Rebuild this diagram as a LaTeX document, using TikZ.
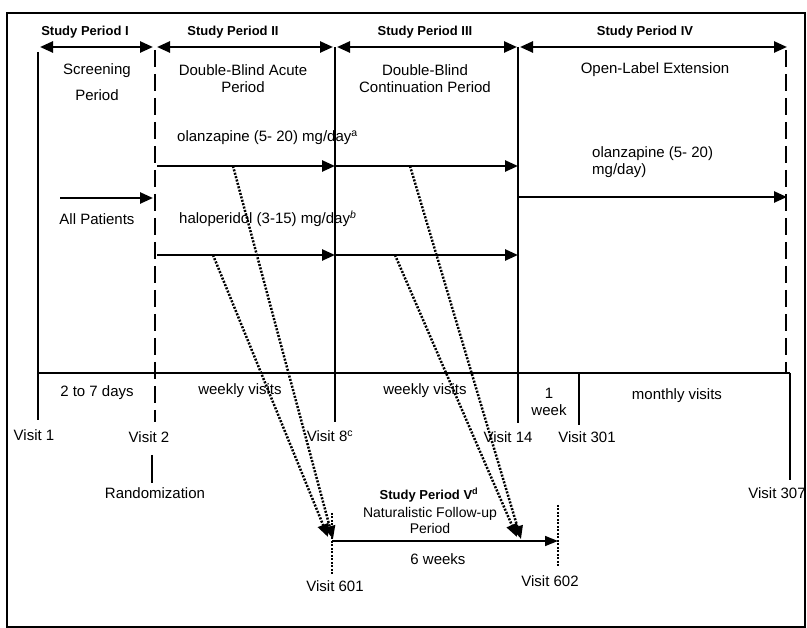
\documentclass[tikz,border=0pt]{standalone}
\usepackage{fontspec}
\setmainfont{Liberation Sans}
\usetikzlibrary{arrows.meta}
\begin{document}
\begin{tikzpicture}[x=1pt,y=-1pt,
  lbl/.style={font=\fontsize{15}{17}\selectfont, inner sep=0pt, align=center},
  lblv/.style={font=\fontsize{14}{16}\selectfont, inner sep=0pt, align=center},
  hdr/.style={font=\bfseries\fontsize{13}{15}\selectfont, inner sep=0pt},
  hdrv/.style={font=\bfseries\fontsize{13}{15}\selectfont, inner sep=0pt, align=center},
  solidline/.style={line width=2.5pt},
  dashline/.style={line width=2.5pt, dash pattern=on 17pt off 7pt},
  timeline/.style={line width=2.5pt},
  dblarrow/.style={line width=2.5pt, {Triangle[length=13pt,width=11pt]}-{Triangle[length=13pt,width=11pt]}},
  onearrow/.style={line width=2.5pt, -{Triangle[length=13pt,width=11pt]}},
  thinarrow/.style={line width=1.5pt, -{Triangle[length=13pt,width=10pt]}},
  dotline/.style={line width=2.5pt, dash pattern=on 2pt off 1.5pt},
  dotarrow/.style={line width=2.5pt, dash pattern=on 2pt off 1.5pt, -{Triangle[length=13pt,width=11pt]}}
]
\useasboundingbox (0,0) rectangle (807,628);
% outer frame
\draw[line width=1.5pt] (7,13) rectangle (805,627);

% coordinates
\coordinate (p1l) at (40,47);  \coordinate (p1r) at (153,47);
\coordinate (p2l) at (157,47); \coordinate (p2r) at (333,47);
\coordinate (p3l) at (337,47); \coordinate (p3r) at (517,47);
\coordinate (p4l) at (520,47); \coordinate (p4r) at (787,47);

\coordinate (v1t) at (38,52);   \coordinate (v1b) at (38,420);
\coordinate (v2t) at (155,50);  \coordinate (v2b) at (155,422);
\coordinate (v8t) at (335,47);  \coordinate (v8b) at (335,422);
\coordinate (v14t) at (518,47); \coordinate (v14b) at (518,423);
\coordinate (v301t) at (579,373); \coordinate (v301b) at (579,425);
\coordinate (v4t) at (786,50);  \coordinate (v4b) at (786,373);
\coordinate (v307t) at (790,373); \coordinate (v307b) at (790,480);
\coordinate (tl) at (38,373);   \coordinate (tr) at (790,373);
\coordinate (rt) at (152,455);  \coordinate (rb) at (152,483);

\coordinate (oa) at (157,166); \coordinate (ob) at (335,166); \coordinate (oc) at (518,166);
\coordinate (ha) at (157,255); \coordinate (hb) at (335,255); \coordinate (hc) at (518,255);
\coordinate (apa) at (60,198); \coordinate (apb) at (153,198);
\coordinate (o4a) at (518,197); \coordinate (o4b) at (787,197);

\coordinate (v601) at (332,541); \coordinate (v602) at (558,541);
\coordinate (v601t) at (332,513); \coordinate (v601b) at (332,575);
\coordinate (v602t) at (558,505); \coordinate (v602b) at (558,568);

\coordinate (dA) at (213,255); \coordinate (eA) at (328,537);
\coordinate (dB) at (233,166); \coordinate (eB) at (333,539);
\coordinate (dD) at (395,255); \coordinate (eD) at (517,537);
\coordinate (dC) at (410,166); \coordinate (eC) at (521,539);

% header arrows
\draw[dblarrow] (p1l) -- (p1r);
\draw[dblarrow] (p2l) -- (p2r);
\draw[dblarrow] (p3l) -- (p3r);
\draw[dblarrow] (p4l) -- (p4r);

% vertical lines
\draw[solidline] (v1t) -- (v1b);
\draw[dashline] (v2t) -- (v2b);
\draw[solidline] (v8t) -- (v8b);
\draw[solidline] (v14t) -- (v14b);
\draw[solidline] (v301t) -- (v301b);
\draw[dashline] (v4t) -- (v4b);
\draw[solidline] (v307t) -- (v307b);
\draw[timeline] (tl) -- (tr);
\draw[line width=2.5pt] (rt) -- (rb);

% treatment arrows
\draw[onearrow] (oa) -- (ob);
\draw[onearrow] (ob) -- (oc);
\draw[onearrow] (ha) -- (hb);
\draw[onearrow] (hb) -- (hc);
\draw[onearrow] (apa) -- (apb);
\draw[onearrow] (o4a) -- (o4b);

% follow-up
\draw[thinarrow] (v601) -- (v602);
\draw[dotline] (v601t) -- (v601b);
\draw[dotline] (v602t) -- (v602b);
\draw[dotarrow] (dA) -- (eA);
\draw[dotarrow] (dB) -- (eB);
\draw[dotarrow] (dD) -- (eD);
\draw[dotarrow] (dC) -- (eC);

% header labels
\node[hdr] (h1) at (85,32) {Study Period I};
\node[hdr] (h2) at (233,32) {Study Period II};
\node[hdr] (h3) at (425,32) {Study Period III};
\node[hdr] (h4) at (645,32) {Study Period IV};

\node[lbl] (scr1) at (97,71) {Screening};
\node[lbl] (scr2) at (97,95) {Period};
\node[lbl] (dba) at (243,79) {Double-Blind Acute\\Period};
\node[lbl] (dbc) at (425,79) {Double-Blind\\Continuation Period};
\node[lbl] (ole) at (655,70) {Open-Label Extension};

\node[lbl, anchor=west] (olz) at (177,138) {olanzapine (5- 20) mg/day\textsuperscript{a}};
\node[lbl, anchor=west] (hal) at (179,219) {haloperidol (3-15) mg/day\textsuperscript{\itshape b}};
\node[lbl] (allp) at (97,219) {All Patients};
\node[lbl, anchor=west, align=left] (olz4) at (592,162) {olanzapine (5- 20)\\mg/day)};

% timeline labels
\node[lbl] (d27) at (97,393) {2 to 7 days};
\node[lbl] (wk1) at (240,391) {weekly visits};
\node[lbl] (wk2) at (425,391) {weekly visits};
\node[lbl] (onew) at (549,402) {1\\week};
\node[lbl] (mon) at (677,396) {monthly visits};

\node[lbl] (vis1) at (34,435) {Visit 1};
\node[lbl] (vis2) at (149,437) {Visit 2};
\node[lbl] (vis8) at (330,436) {Visit 8\textsuperscript{c}};
\node[lbl] (vis14) at (508,437) {Visit 14};
\node[lbl] (vis301) at (587,437) {Visit 301};
\node[lbl] (vis307) at (777,493) {Visit 307};
\node[lbl] (rand) at (155,493) {Randomization};

% period V
\node[hdrv] (h5) at (429,495) {Study Period V\textsuperscript{d}};
\node[lblv] (nat) at (430,520) {Naturalistic Follow-up\\Period};
\node[lbl] (sixw) at (438,559) {6 weeks};
\node[lbl] (vis601) at (335,586) {Visit 601};
\node[lbl] (vis602) at (550,581) {Visit 602};
\end{tikzpicture}
\end{document}
